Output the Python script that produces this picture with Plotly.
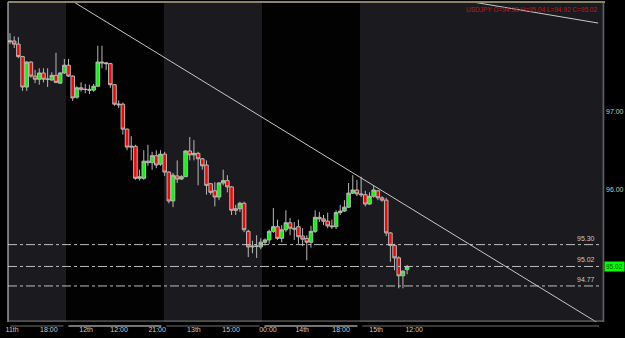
import plotly.graph_objects as go

# ---- data ----
opens = [97.90, 97.91, 97.87, 97.71, 97.32, 97.64, 97.46, 97.42, 97.50, 97.42,
         97.41, 97.47, 97.37, 97.50, 97.60, 97.46, 97.19, 97.31, 97.29, 97.29,
         97.28, 97.33, 97.64, 97.63, 97.62, 97.35, 97.09, 97.10, 96.78, 96.55,
         96.56, 96.15, 96.15, 96.37, 96.35, 96.44, 96.33, 96.46, 96.23, 95.86,
         96.18, 96.14, 96.17, 96.50, 96.45, 96.47, 96.40, 96.32, 96.08, 95.99,
         95.91, 96.09, 96.12, 96.04, 95.76, 95.76, 95.83, 95.47, 95.27, 95.28,
         95.27, 95.33, 95.36, 95.47, 95.53, 95.38, 95.49, 95.58, 95.51, 95.53,
         95.41, 95.38, 95.33, 95.47, 95.65, 95.63, 95.60, 95.54, 95.53, 95.71,
         95.73, 95.78, 95.96, 96.00, 95.95, 95.94, 95.82, 95.92, 95.99, 95.90,
         95.87, 95.45, 95.29, 95.13, 94.90, 94.98]
highs = [98.01, 97.97, 97.96, 97.72, 97.65, 97.65, 97.54, 97.56, 97.56, 97.56,
         97.51, 97.76, 97.51, 97.68, 97.68, 97.47, 97.33, 97.38, 97.36, 97.35,
         97.36, 97.85, 97.85, 97.64, 97.63, 97.36, 97.15, 97.12, 96.79, 96.69,
         96.58, 96.26, 96.51, 96.58, 96.49, 96.51, 96.51, 96.49, 96.24, 96.22,
         96.38, 96.19, 96.51, 96.68, 96.64, 96.49, 96.41, 96.38, 96.09, 96.10,
         96.10, 96.26, 96.19, 96.05, 95.81, 95.85, 95.85, 95.49, 95.35, 95.42,
         95.38, 95.38, 95.49, 95.77, 95.62, 95.55, 95.74, 95.64, 95.59, 95.62,
         95.51, 95.42, 95.54, 95.74, 95.72, 95.68, 95.71, 95.62, 95.74, 95.81,
         95.87, 96.09, 96.19, 96.13, 96.17, 95.99, 95.97, 96.05, 96.00, 95.92,
         95.90, 95.46, 95.31, 95.15, 94.97, 95.04]
lows = [97.87, 97.82, 97.69, 97.27, 97.27, 97.44, 97.37, 97.35, 97.38, 97.32,
        97.40, 97.37, 97.36, 97.49, 97.45, 97.14, 97.17, 97.26, 97.24, 97.23,
        97.26, 97.33, 97.56, 97.54, 97.31, 97.08, 97.05, 96.71, 96.51, 96.38,
        96.13, 96.12, 96.13, 96.31, 96.26, 96.28, 96.31, 96.18, 95.83, 95.78,
        96.09, 96.13, 96.17, 96.38, 96.38, 96.06, 96.26, 95.94, 95.94, 95.79,
        95.87, 96.06, 95.97, 95.68, 95.68, 95.72, 95.46, 95.14, 95.19, 95.13,
        95.24, 95.29, 95.31, 95.45, 95.36, 95.33, 95.46, 95.42, 95.36, 95.31,
        95.28, 95.10, 95.26, 95.45, 95.59, 95.55, 95.51, 95.50, 95.50, 95.68,
        95.72, 95.77, 95.95, 95.92, 95.91, 95.79, 95.81, 95.90, 95.87, 95.85,
        95.41, 95.08, 94.97, 94.74, 94.74, 94.92]
closes = [97.91, 97.87, 97.71, 97.32, 97.64, 97.46, 97.42, 97.50, 97.42, 97.42,
          97.47, 97.38, 97.50, 97.60, 97.46, 97.18, 97.31, 97.29, 97.29, 97.28,
          97.33, 97.64, 97.63, 97.62, 97.35, 97.10, 97.10, 96.78, 96.55, 96.56,
          96.15, 96.17, 96.37, 96.35, 96.44, 96.32, 96.46, 96.23, 95.86, 96.19,
          96.14, 96.17, 96.50, 96.45, 96.47, 96.40, 96.31, 96.06, 95.97, 95.91,
          96.09, 96.12, 96.04, 95.74, 95.74, 95.83, 95.49, 95.27, 95.28, 95.28,
          95.33, 95.36, 95.47, 95.53, 95.38, 95.49, 95.58, 95.51, 95.50, 95.40,
          95.37, 95.33, 95.47, 95.65, 95.63, 95.60, 95.54, 95.53, 95.71, 95.73,
          95.78, 95.96, 96.00, 95.95, 95.94, 95.82, 95.92, 96.00, 95.90, 95.87,
          95.45, 95.29, 95.13, 94.90, 94.96, 95.02]
bar_index = list(range(len(opens)))

tick_pos = [0.5, 9.3, 18.2, 26.1, 35.2, 44.0, 52.9, 61.7, 69.9, 79.2, 87.6, 96.7]
tick_text = ["11th", "18:00", "12th", "12:00", "21:00", "13th", "15:00",
             "00:00", "14th", "18:00", "15th", "12:00"]

price_ticks = [96.0, 97.0]
price_tick_text = ["96.00", "97.00"]

levels = [95.30, 95.02, 94.77]
level_text = ["95.30", "95.02", "94.77"]
last_price = 95.02
title_text = "USDJPY O=94.98 H=95.04 L=94.92 C=95.02"

# session band boundaries (bar index units) and band shading
band_edges = [-0.48, 13.4, 36.8, 60.3, 83.7, 142.34]
band_is_grey = [True, False, True, False, True]

# trend lines: (x0, y0, x1, y1) in bar index / price
trend1 = (14.35, 98.44, 142.34, 94.24)
trend2 = (109.6, 98.42, 140.7, 98.14)

XMIN, XMAX = band_edges[0], band_edges[-1]
YMIN, YMAX = 94.308, 98.41

fig = go.Figure()
fig.add_trace(go.Candlestick(
    x=bar_index, open=opens, high=highs, low=lows, close=closes,
    increasing=dict(fillcolor="#00ff00", line=dict(color="#b8b8b8", width=1)),
    decreasing=dict(fillcolor="#ff0000", line=dict(color="#b8b8b8", width=1)),
    whiskerwidth=0, showlegend=False, hoverinfo="skip",
))

shapes = []
GREY = "#1b1b1f"
for i in range(len(band_is_grey)):
    shapes.append(dict(type="rect", xref="x", yref="paper",
                       x0=band_edges[i], x1=band_edges[i + 1], y0=0, y1=1,
                       fillcolor=GREY if band_is_grey[i] else "#020203",
                       line=dict(width=0), layer="below"))

def to_paper(v):
    return (v - XMIN) / (XMAX - XMIN)

# axis line segments below the plot
for i in range(len(band_is_grey)):
    x1 = to_paper(band_edges[i + 1]) - 0.004
    if i == len(band_is_grey) - 1:
        x1 = 0.99
    shapes.append(dict(type="line", xref="paper", yref="paper",
                       x0=to_paper(band_edges[i]) + 0.004, x1=x1,
                       y0=-0.0125, y1=-0.0125,
                       line=dict(color="#6e6e6e" if band_is_grey[i] else "#e8e8e8", width=1)))

# level lines
for lv in levels:
    shapes.append(dict(type="line", xref="paper", yref="y", x0=0, x1=0.99,
                       y0=lv, y1=lv, line=dict(color="#bdbdbd", width=1, dash="dashdot")))

# trend lines
for t in (trend1, trend2):
    shapes.append(dict(type="line", xref="x", yref="y", x0=t[0], y0=t[1],
                       x1=t[2], y1=t[3], line=dict(color="#c8c8c8", width=1)))

# frame
shapes.append(dict(type="line", xref="paper", yref="paper", x0=0, x1=0, y0=0, y1=1,
                   line=dict(color="#e0e0e0", width=1)))
shapes.append(dict(type="line", xref="paper", yref="paper", x0=0, x1=1, y0=1, y1=1,
                   line=dict(color="#8c8468", width=2)))
shapes.append(dict(type="line", xref="paper", yref="paper", x0=0.997, x1=0.997, y0=0, y1=1,
                   line=dict(color="#7a7a7a", width=1)))
shapes.append(dict(type="line", xref="paper", yref="paper", x0=0, x1=0.997, y0=0.003, y1=0.003,
                   line=dict(color="#7a7a7a", width=1)))

annotations = []
for lv, txt in zip(levels, level_text):
    annotations.append(dict(xref="paper", yref="y", x=0.986, y=lv, text=txt,
                            xanchor="right", yanchor="bottom", showarrow=False,
                            font=dict(size=7, color="#c8c8c8", family="Liberation Sans"),
                            yshift=1))
annotations.append(dict(xref="paper", yref="paper", x=0.99, y=0.995, text=title_text,
                        xanchor="right", yanchor="top", showarrow=False,
                        font=dict(size=6.5, color="#c81414", family="Liberation Sans")))
annotations.append(dict(xref="paper", yref="y", x=0.998, y=last_price, text=str("%.2f" % last_price),
                        xanchor="left", yanchor="middle", showarrow=False,
                        bgcolor="#00ff00", borderpad=1,
                        font=dict(size=6.5, color="#005000", family="Liberation Sans")))

fig.update_layout(
    width=625, height=338,
    margin=dict(l=8, r=20, t=2, b=16),
    paper_bgcolor="#000000", plot_bgcolor="#000000",
    boxgap=0.15, boxgroupgap=0,
    shapes=shapes, annotations=annotations,
    xaxis=dict(range=[XMIN, XMAX], rangeslider=dict(visible=False),
               tickvals=tick_pos, ticktext=tick_text, ticks="",
               ticklabelstandoff=2,
               showgrid=False, zeroline=False, showline=False,
               tickfont=dict(size=7, color="#c8c8c8", family="Liberation Sans")),
    yaxis=dict(range=[YMIN, YMAX], side="right", tickvals=price_ticks,
               ticktext=price_tick_text, ticks="", showgrid=False, zeroline=False,
               showline=False,
               tickfont=dict(size=7, color="#c8c8c8", family="Liberation Sans")),
)

fig.write_html("out.html")
